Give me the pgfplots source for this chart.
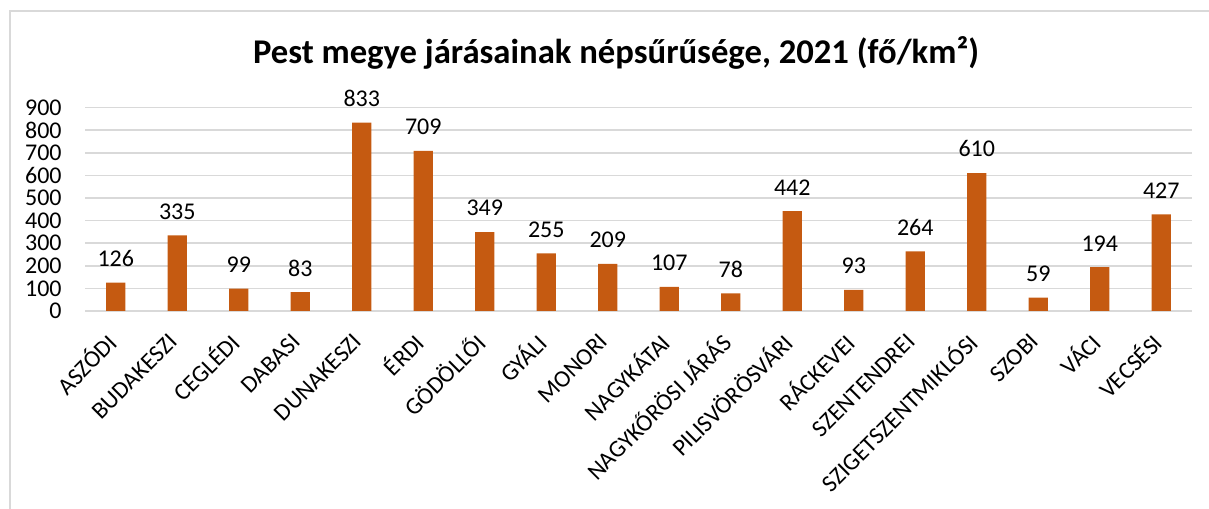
\documentclass[border=0pt]{standalone}
\usepackage{fontspec}
\setmainfont{Carlito}
\usepackage{pgfplots}
\pgfplotsset{compat=1.18}
\definecolor{barc}{HTML}{C55A11}
\definecolor{gridc}{HTML}{D9D9D9}
\begin{document}
\begin{tikzpicture}
\useasboundingbox (0,0) rectangle (906.75pt,381.75pt);
% chart frame (left and top edges visible)
\draw[gridc, line width=1.1pt] (7.5pt,-20pt) -- (7.5pt,373.5pt) -- (950pt,373.5pt);
\node[font=\fontsize{26}{28}\selectfont\bfseries, anchor=base] at (462pt,333.75pt) {Pest megye járásainak népsűrűsége, 2021 (fő/km²)};
\begin{axis}[
  at={(63.75pt,148.5pt)}, anchor=south west,
  scale only axis, width=830.25pt, height=152.55pt,
  xmin=-0.5, xmax=17.5, ymin=0, ymax=900,
  ytick={0,100,...,900},
  xtick={0,...,17},
  xticklabels={ASZÓDI,BUDAKESZI,CEGLÉDI,DABASI,DUNAKESZI,ÉRDI,GÖDÖLLŐI,GYÁLI,MONORI,NAGYKÁTAI,NAGYKŐRÖSI JÁRÁS,PILISVÖRÖSVÁRI,RÁCKEVEI,SZENTENDREI,SZIGETSZENTMIKLÓSI,SZOBI,VÁCI,VECSÉSI},
  axis line style={draw=none},
  major tick length=0pt,
  ymajorgrids, grid style={gridc, line width=1.1pt},
  /pgf/number format/assume math mode=true,
  tick label style={font=\fontsize{18}{20}\selectfont},
  yticklabel style={xshift=-14pt},
  xticklabel style={xshift=-3pt, rotate=45, anchor=east, inner sep=0pt},
  xticklabel shift=20pt,
  nodes near coords,
  every node near coord/.append style={font=\fontsize{18}{20}\selectfont, yshift=8.5pt},
  clip=false,
]
\addplot[ybar, bar width=14.6pt, fill=barc, draw=none] coordinates {
(0,126) (1,335) (2,99) (3,83) (4,833) (5,709) (6,349) (7,255) (8,209)
(9,107) (10,78) (11,442) (12,93) (13,264) (14,610) (15,59) (16,194) (17,427)
};
\end{axis}
\end{tikzpicture}
\end{document}
